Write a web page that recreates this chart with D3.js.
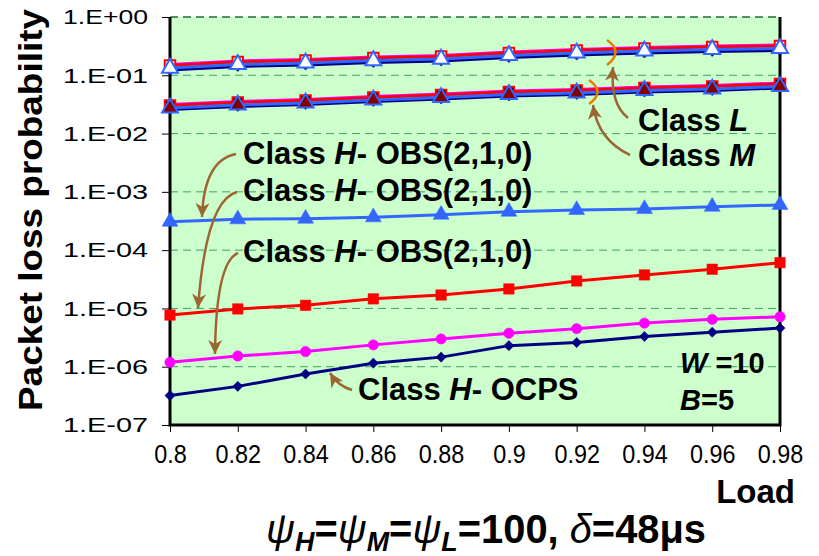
<!DOCTYPE html>
<html>
<head>
<meta charset="utf-8">
<script src="https://cdnjs.cloudflare.com/ajax/libs/d3/7.8.5/d3.min.js"></script>
<style>
  body { margin: 0; background: #fff; }
  svg { display: block; font-family: "Liberation Sans", Arial, sans-serif; }
</style>
</head>
<body>
<div id="chart"></div>
<script>
///data
var loads = [0.80, 0.82, 0.84, 0.86, 0.88, 0.90, 0.92, 0.94, 0.96, 0.98];
var xTickLabels = ["0.8", "0.82", "0.84", "0.86", "0.88", "0.9", "0.92", "0.94", "0.96", "0.98"];
var yTicks = [1, 1e-1, 1e-2, 1e-3, 1e-4, 1e-5, 1e-6, 1e-7];
var yTickLabels = ["1.E+00", "1.E-01", "1.E-02", "1.E-03", "1.E-04", "1.E-05", "1.E-06", "1.E-07"];

// class L, four schemes on top of each other
var lCircle   = [0.153, 0.176, 0.187, 0.206, 0.219, 0.251, 0.277, 0.300, 0.318, 0.331];
var lSquare   = [0.147, 0.169, 0.179, 0.198, 0.210, 0.241, 0.266, 0.288, 0.306, 0.318];
var lDiamond  = [0.123, 0.142, 0.150, 0.166, 0.176, 0.202, 0.223, 0.241, 0.256, 0.266];
var lTriangle = [0.133, 0.153, 0.163, 0.179, 0.190, 0.219, 0.241, 0.261, 0.277, 0.288];

// class M
var mCircle   = [0.0315, 0.0355, 0.0384, 0.0433, 0.0478, 0.0538, 0.0571, 0.0630, 0.0668, 0.0738];
var mSquare   = [0.0303, 0.0342, 0.0370, 0.0416, 0.0459, 0.0517, 0.0549, 0.0606, 0.0643, 0.0709];
var mDiamond  = [0.0259, 0.0292, 0.0316, 0.0356, 0.0392, 0.0442, 0.0469, 0.0517, 0.0549, 0.0606];
var mTriangle = [0.0275, 0.0310, 0.0335, 0.0377, 0.0416, 0.0468, 0.0497, 0.0549, 0.0582, 0.0643];

// class H
var hObsTriangle = [3.08e-4, 3.39e-4, 3.47e-4, 3.67e-4, 4.06e-4, 4.57e-4, 4.90e-4, 5.09e-4, 5.57e-4, 5.96e-4];
var hObsSquare   = [7.7e-6, 9.8e-6, 1.13e-5, 1.46e-5, 1.70e-5, 2.16e-5, 2.96e-5, 3.76e-5, 4.70e-5, 6.10e-5];
var hObsCircle   = [1.19e-6, 1.53e-6, 1.82e-6, 2.37e-6, 3.0e-6, 3.76e-6, 4.5e-6, 5.6e-6, 6.5e-6, 7.2e-6];
var hOcps        = [3.2e-7, 4.6e-7, 7.5e-7, 1.15e-6, 1.46e-6, 2.3e-6, 2.6e-6, 3.3e-6, 3.9e-6, 4.6e-6];

///series styles (drawing order)
var series = [
  {values: lCircle,   shape: "circle",   stroke: "#ff00ff", fill: "#ff00ff"},
  {values: lSquare,   shape: "square",   stroke: "#ff0000", fill: "#ffffff"},
  {values: lDiamond,  shape: "diamond",  stroke: "#000080", fill: "#000080"},
  {values: lTriangle, shape: "triangle", stroke: "#3366ff", fill: "#ffffff"},
  {values: mCircle,   shape: "circle",   stroke: "#ff00ff", fill: "#ff00ff"},
  {values: mSquare,   shape: "square",   stroke: "#ff0000", fill: "#000000"},
  {values: mDiamond,  shape: "diamond",  stroke: "#000080", fill: "#000080"},
  {values: mTriangle, shape: "triangle", stroke: "#3366ff", fill: "#800000"},
  {values: hObsTriangle, shape: "triangle", stroke: "#3366ff", fill: "#3366ff"},
  {values: hObsSquare,   shape: "square",   stroke: "#ff0000", fill: "#ff0000"},
  {values: hObsCircle,   shape: "circle",   stroke: "#ff00ff", fill: "#ff00ff"},
  {values: hOcps,        shape: "diamond",  stroke: "#000080", fill: "#000080"}
];

var width = 819, height = 556;
var plot = {left: 170, right: 780, top: 17, bottom: 425};

var x = d3.scaleLinear().domain([0.8, 0.98]).range([plot.left, plot.right]);
var y = d3.scaleLog().domain([1e-7, 1]).range([plot.bottom, plot.top]);

var svg = d3.select('#chart').append('svg')
    .attr('width', width)
    .attr('height', height);

///markers for arrows
var defs = svg.append('defs');
defs.append('marker')
    .attr('id', 'head')
    .attr('markerUnits', 'userSpaceOnUse')
    .attr('markerWidth', 18).attr('markerHeight', 18)
    .attr('viewBox', '-2 -8 18 16')
    .attr('refX', 14).attr('refY', 0)
    .attr('orient', 'auto')
  .append('path')
    .attr('d', 'M0,-7 L14,0 L0,7 L4,0 Z')
    .attr('fill', '#9c6633');

///plot background
svg.append('rect')
    .attr('x', plot.left).attr('y', plot.top)
    .attr('width', plot.right - plot.left)
    .attr('height', plot.bottom - plot.top)
    .attr('fill', '#ccffcc');

///grid lines
svg.append('g').selectAll('line')
    .data(yTicks.slice(0, -1))
  .enter().append('line')
    .attr('x1', plot.left).attr('x2', plot.right)
    .attr('y1', d => y(d)).attr('y2', d => y(d))
    .attr('stroke', d => d === 1 ? '#1f6b3a' : '#3ea266')
    .attr('stroke-width', d => d === 1 ? 1.5 : 1)
    .attr('stroke-dasharray', '8,5');

///axes
var yAxis = d3.axisLeft(y)
    .tickValues(yTicks)
    .tickFormat((d, i) => yTickLabels[i])
    .tickSize(8)
    .tickPadding(14);

var gy = svg.append('g')
    .attr('transform', `translate(${plot.left},0)`)
    .call(yAxis);
gy.select('.domain').remove();
gy.selectAll('.tick line').attr('stroke', '#000').attr('stroke-width', 1);
gy.selectAll('.tick text')
    .attr('font-size', 21)
    .attr('fill', '#000')
    .attr('textLength', 85)
    .attr('lengthAdjust', 'spacingAndGlyphs')
    .style('font-family', '"Liberation Sans", Arial, sans-serif');

var xAxis = d3.axisBottom(x)
    .tickValues(loads)
    .tickFormat((d, i) => xTickLabels[i])
    .tickSize(7)
    .tickPadding(13);

var gx = svg.append('g')
    .attr('transform', `translate(0,${plot.bottom})`)
    .call(xAxis);
gx.select('.domain').remove();
gx.selectAll('.tick line').attr('stroke', '#000').attr('stroke-width', 1);
gx.selectAll('.tick text')
    .attr('font-size', 26)
    .attr('fill', '#000')
    .attr('transform', 'scale(0.9,1)')
    .style('font-family', '"Liberation Sans", Arial, sans-serif');

///plot frame (left, bottom, right)
svg.append('path')
    .attr('d', `M${plot.left},${plot.top} V${plot.bottom} H${plot.right} V${plot.top}`)
    .attr('fill', 'none')
    .attr('stroke', '#000')
    .attr('stroke-width', 3);

///lines and markers
var line = d3.line()
    .x((d, i) => x(loads[i]))
    .y(d => y(d));

var symbols = {
  circle: d3.symbol().type(d3.symbolCircle).size(85),
  square: d3.symbol().type(d3.symbolSquare).size(110),
  triangle: d3.symbol().type(d3.symbolTriangle).size(110),
  diamond: d3.symbol().type(d3.symbolSquare).size(52)
};

series.forEach(function(s) {
  var g = svg.append('g');
  g.append('path')
      .attr('d', line(s.values))
      .attr('fill', 'none')
      .attr('stroke', s.stroke)
      .attr('stroke-width', 3);

  g.selectAll('path.pt')
      .data(s.values)
    .enter().append('path')
      .attr('class', 'pt')
      .attr('d', symbols[s.shape]())
      .attr('transform', (d, i) => `translate(${x(loads[i])},${y(d)})` + (s.shape === 'diamond' ? ' rotate(45)' : ''))
      .attr('fill', s.fill)
      .attr('stroke', s.stroke)
      .attr('stroke-width', s.fill === s.stroke ? 0.5 : 2);
});

///annotation arrows
var arrows = [
  'M236,154 Q204,160 202,217',
  'M237,192 Q206,200 198,308',
  'M238,253 Q216,262 215,354',
  'M352,390 Q338,386 330,373',
  'M628,118 Q610,104 613,67',
  'M630,155 Q598,140 593,105'
];
svg.append('g').selectAll('path')
    .data(arrows)
  .enter().append('path')
    .attr('d', d => d)
    .attr('fill', 'none')
    .attr('stroke', '#9c6633')
    .attr('stroke-width', 2.5)
    .attr('marker-end', 'url(#head)');

// orange brackets around the L / M bundles
svg.append('g').selectAll('path')
    .data(['M607,40 Q624,52 607,65', 'M589,80 Q606,92 589,104'])
  .enter().append('path')
    .attr('d', d => d)
    .attr('fill', 'none')
    .attr('stroke', '#e67e00')
    .attr('stroke-width', 2.5);

///labels
function classLabel(px, py, letter, rest) {
  var t = svg.append('text')
      .attr('x', px).attr('y', py)
      .attr('font-size', 31)
      .attr('font-weight', 'bold')
      .attr('fill', '#000');
  t.append('tspan').text('Class ');
  t.append('tspan').attr('font-style', 'italic').text(letter);
  if (rest) t.append('tspan').text(rest);
}
classLabel(638, 131, 'L');
classLabel(638, 166, 'M');
classLabel(243, 164, 'H', '- OBS(2,1,0)');
classLabel(243, 201, 'H', '- OBS(2,1,0)');
classLabel(243, 262, 'H', '- OBS(2,1,0)');
classLabel(358, 400, 'H', '- OCPS');

var wt = svg.append('text').attr('x', 680).attr('y', 373)
    .attr('font-size', 29).attr('font-weight', 'bold');
wt.append('tspan').attr('font-style', 'italic').text('W');
wt.append('tspan').text(' =10');
var bt = svg.append('text').attr('x', 680).attr('y', 410)
    .attr('font-size', 29).attr('font-weight', 'bold');
bt.append('tspan').attr('font-style', 'italic').text('B');
bt.append('tspan').text('=5');

///axis titles
svg.append('text')
    .attr('transform', 'translate(42,210) rotate(-90)')
    .attr('text-anchor', 'middle')
    .attr('font-size', 33)
    .attr('font-weight', 'bold')
    .attr('textLength', 402)
    .attr('lengthAdjust', 'spacingAndGlyphs')
    .text('Packet loss probability');

svg.append('text')
    .attr('x', 795).attr('y', 503)
    .attr('text-anchor', 'end')
    .attr('font-size', 33)
    .attr('font-weight', 'bold')
    .text('Load');

///bottom caption with subscripts
var sub = svg.append('text')
    .attr('x', 266).attr('y', 543)
    .attr('font-size', 40)
    .attr('font-weight', 'bold')
    .attr('textLength', 440)
    .attr('lengthAdjust', 'spacingAndGlyphs');
var parts = [['ψ', 'i'], ['H', 's'], ['=', ''], ['ψ', 'i'], ['M', 's'], ['=', ''], ['ψ', 'i'], ['L', 's'],
             ['=100, ', ''], ['δ', 'i'], ['=48μs', '']];
var lowered = false;
parts.forEach(function(p) {
  var ts = sub.append('tspan').text(p[0]);
  if (p[1] === 'i') ts.attr('font-style', 'italic').attr('font-weight', 'normal');
  if (p[1] === 's') {
    ts.attr('font-style', 'italic').attr('font-size', 27).attr('dy', 8);
    lowered = true;
  } else if (lowered) {
    ts.attr('dy', -8);
    lowered = false;
  }
});
</script>
</body>
</html>
